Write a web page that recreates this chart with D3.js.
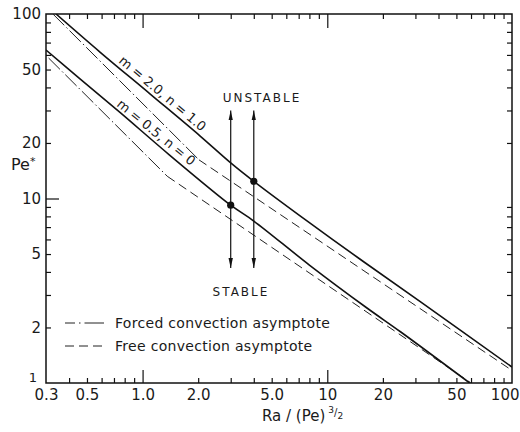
<!DOCTYPE html>
<html>
<head>
<meta charset="utf-8">
<script src="https://cdn.jsdelivr.net/npm/d3@7"></script>
<style>
  body { margin: 0; background: #fff; }
  svg text { font-family: "DejaVu Sans", sans-serif; fill: #1a1a1a; }
  .axis path { display: none; }
  .axis line { stroke: #111; stroke-width: 1.2; }
  .axis text { font-size: 14px; }
</style>
</head>
<body>
<div id="VizBox"></div>
<script>

// curve m=2.0, n=1.0
var upperX = [0.34, 0.59, 1.1, 2.05, 3.0, 4.0, 8.0, 15, 32, 100];
var upperY = [100, 62, 36.8, 21.8, 15.6, 12.4, 7.4, 4.7, 2.75, 1.22];

// curve m=0.5, n=0
var lowerX = [0.3, 0.46, 0.76, 1.4, 3.0, 4.0, 8.0, 16.4, 25, 59];
var lowerY = [63.8, 44.4, 29.1, 17.2, 9.2, 7.55, 4.36, 2.55, 1.89, 1.0];

// asymptotes: forced (dash-dot) and free (dashed)
var forcedUpperX = [0.327, 2.02], forcedUpperY = [100, 16.2];
var freeUpperX = [2.02, 100], freeUpperY = [16.2, 1.17];
var forcedLowerX = [0.31, 1.36], forcedLowerY = [57.7, 13.2];
var freeLowerX = [1.36, 60], freeLowerY = [13.2, 1.0];

// stability arrows and marked points
var arrowX = [3, 4];
var arrowRange = [4.2, 30];
var dotY = [9.2, 12.4];

// ticks
var xTicks = [0.3, 0.5, 1, 2, 5, 10, 20, 50, 100];
var xTickLabels = ["0.3", "0.5", "1.0", "2.0", "5.0", "10", "20", "50", "100"];
var yTicks = [1, 2, 5, 10, 20, 50, 100];
var yTickLabels = ["1", "2", "5", "10", "20", "50", "100"];

var W = 520, H = 432;
var svg = d3.select("#VizBox")
  .append("svg")
  .attr("width", W)
  .attr("height", H);

var x = d3.scaleLog().domain([0.3, 100]).range([46, 512]);
var y = d3.scaleLog().domain([1, 100]).range([383, 14]);

function minors(lo, hi) {
  var out = [];
  for (var p = Math.floor(Math.log10(lo)); p <= Math.ceil(Math.log10(hi)); p++) {
    for (var k = 2; k < 10; k++) {
      var v = k * Math.pow(10, p);
      if (v > lo * 1.0001 && v < hi * 0.9999) out.push(v);
    }
  }
  return out;
}
var xMinor = minors(0.3, 100);
var yMinor = minors(1, 100);
var xDecades = [1, 10];
var yDecades = [10];

// minor ticks on all four sides
svg.append("g").attr("class", "axis")
  .attr("transform", "translate(0,383)")
  .call(d3.axisBottom(x).tickValues(xMinor).tickSize(-5).tickFormat(""));
svg.append("g").attr("class", "axis")
  .attr("transform", "translate(0,14)")
  .call(d3.axisTop(x).tickValues(xMinor).tickSize(-5).tickFormat(""));
svg.append("g").attr("class", "axis")
  .attr("transform", "translate(46,0)")
  .call(d3.axisLeft(y).tickValues(yMinor).tickSize(-5).tickFormat(""));
svg.append("g").attr("class", "axis")
  .attr("transform", "translate(512,0)")
  .call(d3.axisRight(y).tickValues(yMinor).tickSize(-5).tickFormat(""));

// decade ticks
svg.append("g").attr("class", "axis")
  .attr("transform", "translate(0,383)")
  .call(d3.axisBottom(x).tickValues(xDecades).tickSize(-13).tickFormat(""));
svg.append("g").attr("class", "axis")
  .attr("transform", "translate(0,14)")
  .call(d3.axisTop(x).tickValues(xDecades).tickSize(-14).tickFormat(""));
svg.append("g").attr("class", "axis")
  .attr("transform", "translate(46,0)")
  .call(d3.axisLeft(y).tickValues(yDecades).tickSize(-13).tickFormat(""));

// tick labels
var xl = svg.append("g").attr("class", "axis")
  .attr("transform", "translate(0,383)")
  .call(d3.axisBottom(x).tickValues(xTicks).tickSize(0).tickPadding(6)
    .tickFormat(function(d, i) { return xTickLabels[i]; }));
xl.selectAll("text").style("font-size", "15px");
// last label is cut by the page edge in the original, keep it inside
xl.selectAll("text").filter(function(d) { return d == 100; })
  .attr("text-anchor", "end").attr("x", 7);

svg.append("g").attr("class", "axis")
  .attr("transform", "translate(46,0)")
  .call(d3.axisLeft(y).tickValues(yTicks.slice(1)).tickSize(0).tickPadding(5)
    .tickFormat(function(d, i) { return yTickLabels[i + 1]; }))
  .selectAll("text").style("font-size", "15px");
svg.append("text")
  .attr("x", 37).attr("y", y(1) - 1)
  .attr("text-anchor", "end")
  .style("font-size", "13px")
  .text(yTickLabels[0]);

// frame
svg.append("rect")
  .attr("x", 46).attr("y", 14)
  .attr("width", 466).attr("height", 369)
  .attr("fill", "none")
  .attr("stroke", "#111")
  .attr("stroke-width", 1.5);

svg.append("clipPath").attr("id", "plotclip")
  .append("rect").attr("x", 46).attr("y", 14).attr("width", 466).attr("height", 369);

var plot = svg.append("g").attr("clip-path", "url(#plotclip)");

var line = d3.line()
  .x(function(d) { return x(d[0]); })
  .y(function(d) { return y(d[1]); });
var smooth = d3.line()
  .x(function(d) { return x(d[0]); })
  .y(function(d) { return y(d[1]); })
  .curve(d3.curveCatmullRom.alpha(0.5));

function pts(xs, ys) { return xs.map(function(v, i) { return [v, ys[i]]; }); }

// asymptotes
[[forcedUpperX, forcedUpperY], [forcedLowerX, forcedLowerY]].forEach(function(s) {
  plot.append("path")
    .attr("d", line(pts(s[0], s[1])))
    .attr("fill", "none").attr("stroke", "#222").attr("stroke-width", 1)
    .attr("stroke-dasharray", "16,3,1.5,3");
});
[[freeUpperX, freeUpperY], [freeLowerX, freeLowerY]].forEach(function(s) {
  plot.append("path")
    .attr("d", line(pts(s[0], s[1])))
    .attr("fill", "none").attr("stroke", "#222").attr("stroke-width", 1)
    .attr("stroke-dasharray", "9,5");
});

// solid curves
[[upperX, upperY], [lowerX, lowerY]].forEach(function(s) {
  plot.append("path")
    .attr("d", smooth(pts(s[0], s[1])))
    .attr("fill", "none").attr("stroke", "#111").attr("stroke-width", 1.6);
});

// arrows
var defs = svg.append("defs");
defs.append("marker")
  .attr("id", "head").attr("viewBox", "0 0 10 10")
  .attr("refX", 10).attr("refY", 5)
  .attr("markerWidth", 10).attr("markerHeight", 10)
  .attr("markerUnits", "userSpaceOnUse")
  .attr("orient", "auto-start-reverse")
  .append("path").attr("d", "M0,2.8L10,5L0,7.2Z").attr("fill", "#111");

arrowX.forEach(function(a) {
  svg.append("line")
    .attr("x1", x(a)).attr("x2", x(a))
    .attr("y1", y(arrowRange[0])).attr("y2", y(arrowRange[1]))
    .attr("stroke", "#111").attr("stroke-width", 1.2)
    .attr("marker-start", "url(#head)")
    .attr("marker-end", "url(#head)");
});

svg.selectAll("circle.pt")
  .data(arrowX)
  .enter().append("circle")
  .attr("class", "pt")
  .attr("cx", function(d) { return x(d); })
  .attr("cy", function(d, i) { return y(dotY[i]); })
  .attr("r", 3.6)
  .attr("fill", "#111");

// annotations
svg.append("text")
  .attr("x", x(4.43)).attr("y", y(35.1))
  .attr("dy", "0.35em").attr("text-anchor", "middle")
  .style("font-size", "12px").style("letter-spacing", "2px")
  .text("UNSTABLE");
svg.append("text")
  .attr("x", x(3.41)).attr("y", y(3.11))
  .attr("dy", "0.35em").attr("text-anchor", "middle")
  .style("font-size", "12px").style("letter-spacing", "2px")
  .text("STABLE");

// curve labels sit just above their curves
svg.append("text")
  .attr("transform", "translate(" + x(1.2) + "," + y(34.2) + ") rotate(40)")
  .attr("dy", -4).attr("text-anchor", "middle")
  .style("font-size", "13px")
  .text("m = 2.0, n = 1.0");
svg.append("text")
  .attr("transform", "translate(" + x(1.11) + "," + y(21.0) + ") rotate(39)")
  .attr("dy", -4).attr("text-anchor", "middle")
  .style("font-size", "13px")
  .text("m = 0.5, n = 0");

// legend
var legend = svg.append("g");
legend.append("line")
  .attr("x1", 65).attr("x2", 104).attr("y1", 323).attr("y2", 323)
  .attr("stroke", "#222").attr("stroke-width", 1)
  .attr("stroke-dasharray", "10,4,1.5,4,40");
legend.append("line")
  .attr("x1", 65).attr("x2", 104).attr("y1", 346).attr("y2", 346)
  .attr("stroke", "#222").attr("stroke-width", 1)
  .attr("stroke-dasharray", "9,5");
legend.append("text").attr("x", 115).attr("y", 323).attr("dy", "0.35em")
  .style("font-size", "14px").style("letter-spacing", "0.3px")
  .text("Forced convection asymptote");
legend.append("text").attr("x", 115).attr("y", 346).attr("dy", "0.35em")
  .style("font-size", "14px").style("letter-spacing", "0.3px")
  .text("Free convection asymptote");

// axis titles
var yt = svg.append("text").attr("x", 11).attr("y", 170).style("font-size", "16px");
yt.append("tspan").text("Pe");
yt.append("tspan").attr("dy", -5).style("font-size", "11px").text("*");

var xt = svg.append("text").attr("x", 262).attr("y", 421).style("font-size", "15px");
xt.append("tspan").text("Ra / (Pe)");
xt.append("tspan").attr("dx", 3).attr("dy", -8).style("font-size", "9px").text("3");
xt.append("tspan").attr("dy", 3).style("font-size", "10px").text("/");
xt.append("tspan").attr("dy", 3).style("font-size", "9px").text("2");

</script>
</body>
</html>
